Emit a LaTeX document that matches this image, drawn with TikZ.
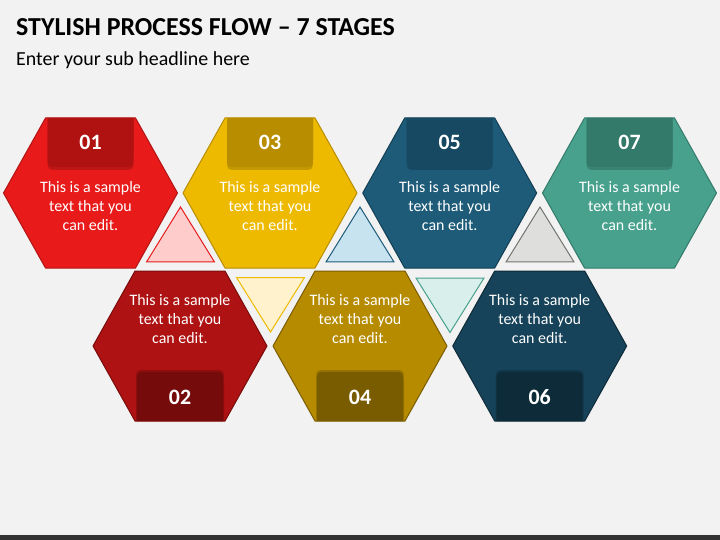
\documentclass[tikz,border=0pt]{standalone}
\usepackage{fontspec}
\setmainfont{Carlito}
\definecolor{bgc}{HTML}{F2F2F2}
\definecolor{barc}{HTML}{333333}
\definecolor{fA}{HTML}{E81A1A}\definecolor{bA}{HTML}{B31414}\definecolor{tA}{HTML}{B01212}
\definecolor{fB}{HTML}{AE1212}\definecolor{bB}{HTML}{7A0C0C}\definecolor{tB}{HTML}{760B0B}
\definecolor{fC}{HTML}{EEBA00}\definecolor{bC}{HTML}{B88D00}\definecolor{tC}{HTML}{B88D00}
\definecolor{fD}{HTML}{B68B00}\definecolor{bD}{HTML}{7A5C00}\definecolor{tD}{HTML}{795C00}
\definecolor{fE}{HTML}{1D5B78}\definecolor{bE}{HTML}{143F54}\definecolor{tE}{HTML}{174A62}
\definecolor{fF}{HTML}{16435A}\definecolor{bF}{HTML}{0E2B39}\definecolor{tF}{HTML}{0E2B39}
\definecolor{fG}{HTML}{47A18D}\definecolor{bG}{HTML}{347A6A}\definecolor{tG}{HTML}{347A6A}
\definecolor{triA}{HTML}{FFCCCC}\definecolor{triB}{HTML}{FFF2CC}\definecolor{triC}{HTML}{C8E3F0}
\definecolor{triD}{HTML}{D9EFEB}\definecolor{triE}{HTML}{DEDFDD}\definecolor{triEb}{HTML}{707570}
\tikzset{
  hexshape/.style={line width=1bp,line join=round},
  numtxt/.style={text=white,inner sep=0pt,font=\fontsize{22}{24}\selectfont\bfseries},
  bodytxt/.style={text=white,inner sep=0pt,align=center,font=\fontsize{16}{19}\selectfont},
  tabshadow/.style={fill=black,opacity=0.18},
  trishape/.style={line width=1bp,line join=miter}
}
\newcommand\hexpath[2]{(#1-87,#2) -- (#1-45,#2-75) -- (#1+45,#2-75) -- (#1+87,#2) -- (#1+45,#2+75) -- (#1-45,#2+75) -- cycle}
\newcommand\tophex[6]{%
  \filldraw[hexshape,fill=#3,draw=#4] \hexpath{#1}{#2};
  \fill[tabshadow] (#1-43,#2-74) -- (#1-43,#2-34) .. controls (#1-43,#2-23) .. (#1-32,#2-23) -- (#1+32,#2-23) .. controls (#1+43,#2-23) .. (#1+43,#2-34) -- (#1+43,#2-74) -- cycle;
  \fill[#5] (#1-43,#2-75) -- (#1-43,#2-36) .. controls (#1-43,#2-26) .. (#1-33,#2-26) -- (#1+33,#2-26) .. controls (#1+43,#2-26) .. (#1+43,#2-36) -- (#1+43,#2-75) -- cycle;
  \node[numtxt] (num#6) at (#1,#2-51) {#6};
  \node[bodytxt] (txt#6) at (#1,#2+13) {This is a sample\\text that you\\can edit.};
}
\newcommand\bothex[6]{%
  \filldraw[hexshape,fill=#3,draw=#4] \hexpath{#1}{#2};
  \fill[tabshadow] (#1-44,#2+74) -- (#1-44,#2+35) .. controls (#1-44,#2+24) .. (#1-33,#2+24) -- (#1+33,#2+24) .. controls (#1+44,#2+24) .. (#1+44,#2+35) -- (#1+44,#2+74) -- cycle;
  \fill[#5] (#1-43,#2+75) -- (#1-43,#2+36) .. controls (#1-43,#2+26) .. (#1-33,#2+26) -- (#1+33,#2+26) .. controls (#1+43,#2+26) .. (#1+43,#2+36) -- (#1+43,#2+75) -- cycle;
  \node[numtxt] (num#6) at (#1,#2+51) {#6};
  \node[bodytxt] (txt#6) at (#1,#2-27) {This is a sample\\text that you\\can edit.};
}
\begin{document}
\begin{tikzpicture}[x=1bp,y=-1bp]
\useasboundingbox (0,0) rectangle (720,540);
\fill[bgc] (0,0) rectangle (720,540);
\fill[barc] (0,535) rectangle (720,540);
\node[anchor=base west,inner sep=0pt,font=\fontsize{26}{28}\selectfont\bfseries] (title) at (16,36) {STYLISH PROCESS FLOW – 7 STAGES};
\node[anchor=base west,inner sep=0pt,font=\fontsize{20}{22}\selectfont] (sub) at (16,66) {Enter your sub headline here};
% triangles
\filldraw[trishape,fill=triA,draw=fA] (180.5,207) -- (214.5,262) -- (146.5,262) -- cycle;
\filldraw[trishape,fill=triB,draw=fC] (236.5,277.5) -- (304.5,277.5) -- (270.5,332) -- cycle;
\filldraw[trishape,fill=triC,draw=fE] (360,207) -- (394,262) -- (326,262) -- cycle;
\filldraw[trishape,fill=triD,draw=fG] (416,278) -- (484,278) -- (450,332.5) -- cycle;
\filldraw[trishape,fill=triE,draw=triEb] (540,207) -- (574,262) -- (506,262) -- cycle;
% hexagons
\tophex{90.5}{193}{fA}{bA}{tA}{01}
\bothex{180}{346}{fB}{bB}{tB}{02}
\tophex{270}{193}{fC}{bC}{tC}{03}
\bothex{360}{346}{fD}{bD}{tD}{04}
\tophex{449.7}{193}{fE}{bE}{tE}{05}
\bothex{539.7}{346}{fF}{bF}{tF}{06}
\tophex{629.5}{193}{fG}{bG}{tG}{07}
\end{tikzpicture}
\end{document}
